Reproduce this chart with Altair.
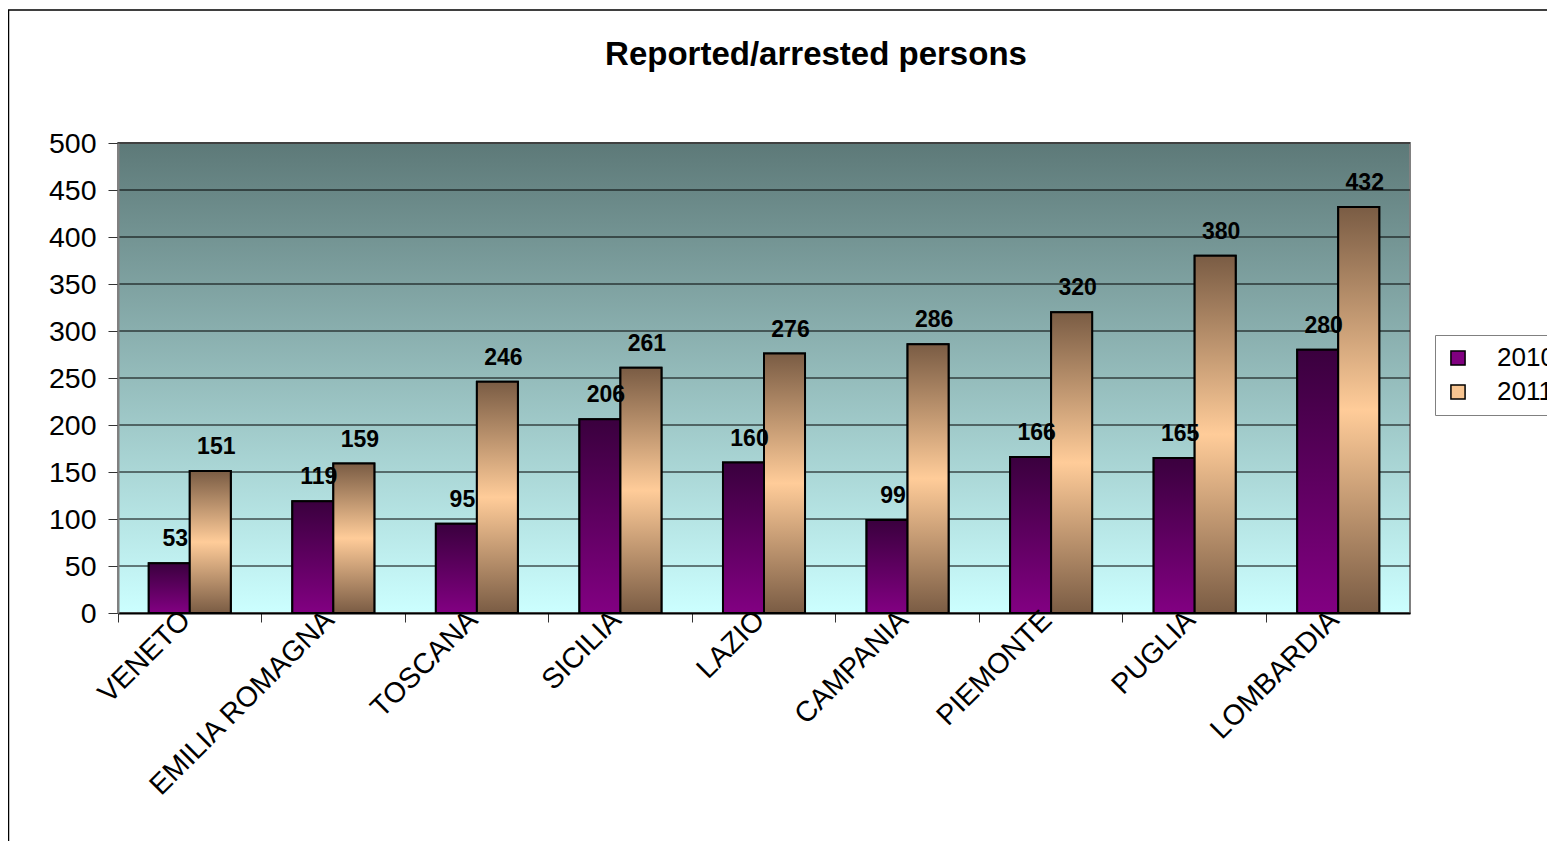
import altair as alt
import pandas as pd

regions = ["VENETO", "EMILIA ROMAGNA", "TOSCANA", "SICILIA", "LAZIO",
           "CAMPANIA", "PIEMONTE", "PUGLIA", "LOMBARDIA"]
v2010 = [53, 119, 95, 206, 160, 99, 166, 165, 280]
v2011 = [151, 159, 246, 261, 276, 286, 320, 380, 432]
years = ["2010", "2011"]
yticks = [0, 50, 100, 150, 200, 250, 300, 350, 400, 450, 500]

rows = []
for r, a, b in zip(regions, v2010, v2011):
    rows.append({"Region": r, "Year": "2010", "Value": a})
    rows.append({"Region": r, "Year": "2011", "Value": b})
df = pd.DataFrame(rows)
grid_df = pd.DataFrame({"Value": yticks[1:]})
one = pd.DataFrame({"k": [0]})

W, H = 1292, 470
step = W / len(regions)
FONT = "Arial, Liberation Sans, sans-serif"


def vgrad(stops):
    return {"gradient": "linear", "x1": 0, "y1": 0, "x2": 0, "y2": 1,
            "stops": [{"offset": o, "color": c} for o, c in stops]}


g2010 = vgrad([(0, "#3a003e"), (1, "#820082")])
g2011 = vgrad([(0, "#7a5c44"), (0.5, "#ffcc99"), (1, "#7a5c44")])
gbg = vgrad([(0, "#5d7978"), (1, "#ccffff")])

x_enc = alt.X("Region:N", sort=regions,
              scale=alt.Scale(paddingInner=0, paddingOuter=0),
              axis=alt.Axis(title=None, labelAngle=-45, labelFontSize=28.5,
                            labelFont=FONT, labelColor="black",
                            bandPosition=0, labelOffset=-14, labelLimit=0,
                            tickSize=9, tickColor="#333", tickWidth=1,
                            domainColor="black", domainWidth=2,
                            labelPadding=-17, labelAlign="right",
                            labelBaseline="top", grid=False, zindex=1))
xo_enc = alt.XOffset("Year:N", sort=years,
                     scale=alt.Scale(paddingInner=0, paddingOuter=0.75))
y_enc = alt.Y("Value:Q", scale=alt.Scale(domain=[0, 500], nice=False),
              axis=alt.Axis(values=yticks, title=None, labelFontSize=28.5,
                            labelFont=FONT, labelColor="black",
                            tickSize=10, tickColor="#333", labelPadding=12,
                            domainColor="#808080", domainWidth=2,
                            grid=False, zindex=1))

frame = alt.Chart(one).mark_rect(fillOpacity=0, stroke="black", strokeWidth=1.5).encode(
    x=alt.value(-109.5), x2=alt.value(W + 400), y=alt.value(-133), y2=alt.value(H + 400))

bg = alt.Chart(one).mark_rect(fill=gbg, stroke="#808080", strokeWidth=2).encode(
    x=alt.value(0), x2=alt.value(W), y=alt.value(0), y2=alt.value(H))

grid = alt.Chart(grid_df).mark_rule(color="black", strokeWidth=1).encode(y=y_enc)

base = alt.Chart(df)
legend_bars = base.mark_bar(stroke="black", strokeWidth=2).encode(
    x=x_enc, xOffset=xo_enc, y=y_enc,
    color=alt.Color("Year:N", sort=years,
                    scale=alt.Scale(domain=years, range=["#800080", "#f8c591"]),
                    legend=alt.Legend(title=None, orient="none", legendX=1317,
                                      legendY=192, labelFontSize=26,
                                      labelFont=FONT, labelColor="black",
                                      symbolType="square", symbolSize=200,
                                      symbolStrokeColor="black",
                                      symbolStrokeWidth=1.5,
                                      strokeColor="#808080", fillColor="white",
                                      padding=10, rowPadding=8,
                                      labelOffset=26, labelLimit=0)))
bars10 = base.transform_filter(alt.datum.Year == "2010").mark_bar(
    fill=g2010, stroke="black", strokeWidth=2).encode(x=x_enc, xOffset=xo_enc, y=y_enc)
bars11 = base.transform_filter(alt.datum.Year == "2011").mark_bar(
    fill=g2011, stroke="black", strokeWidth=2).encode(x=x_enc, xOffset=xo_enc, y=y_enc)

labels = base.mark_text(fontSize=23, fontWeight="bold", font=FONT, color="black",
                        baseline="alphabetic", dy=-17, dx=6).encode(
    x=x_enc, xOffset=xo_enc, y=y_enc, text="Value:Q")

chart = alt.layer(frame, bg, grid, legend_bars, bars10, bars11, labels).properties(
    width=W, height=H,
    title=alt.Title("Reported/arrested persons", fontSize=33, fontWeight="bold",
                    font=FONT, color="black", anchor="middle", dx=52,
                    frame="group", baseline="bottom", offset=-96),
    autosize=alt.AutoSizeParams(type="none"),
    padding={"left": 110, "top": 135, "right": 137, "bottom": 228},
).configure_view(stroke=None).configure(background="white")

chart.save("out.html", embed_options={"renderer": "svg", "actions": False})
